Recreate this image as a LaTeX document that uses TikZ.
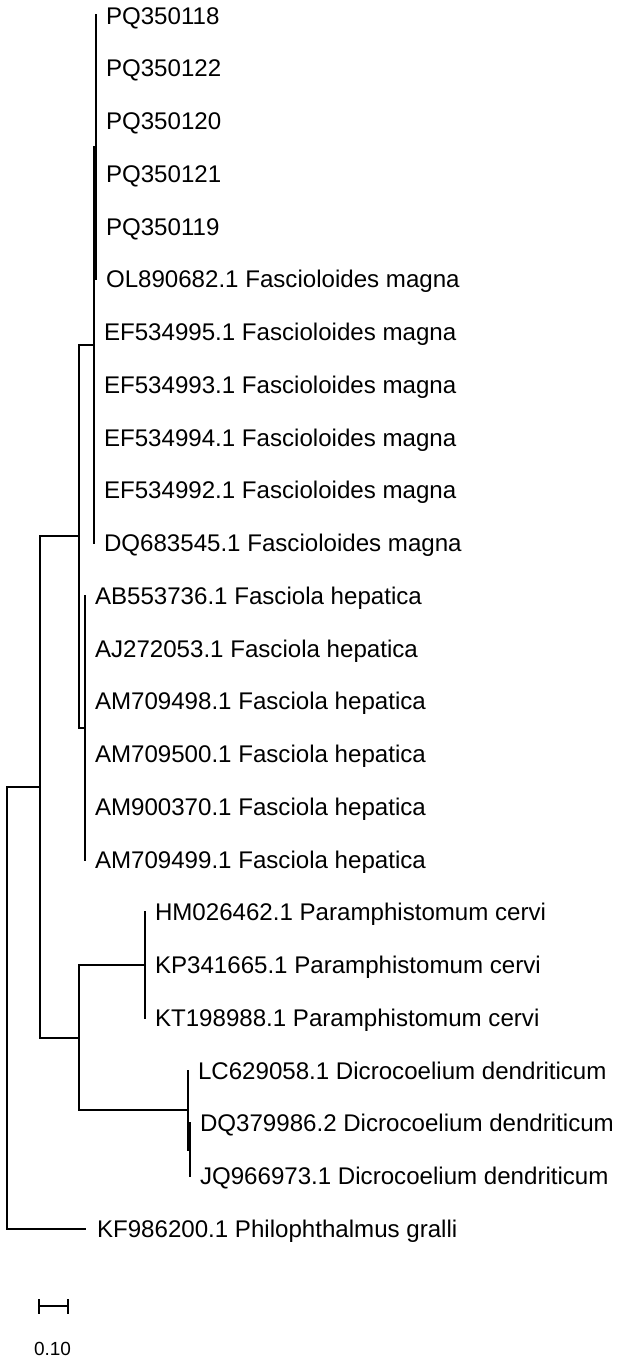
\documentclass[tikz,border=0pt]{standalone}
\usepackage{fontspec}
\setmainfont{Liberation Sans}
\tikzset{
  branch/.style={line width=2pt, black, line cap=rect},
  lab/.style={anchor=base west, inner sep=0pt, outer sep=0pt, font=\fontsize{24.1}{28}\selectfont, text=black},
}
\begin{document}
\begin{tikzpicture}[x=1pt,y=-1pt]
\useasboundingbox (0,0) rectangle (624,1362);
% leaf y positions
\def\cy{8.6}
% ---- labels ----
\node[lab] (l1)  at (106,15.5+\cy)  {PQ350118};
\node[lab] (l2)  at (106,68.25+\cy) {PQ350122};
\node[lab] (l3)  at (106,121+\cy)   {PQ350120};
\node[lab] (l4)  at (106,173.75+\cy){PQ350121};
\node[lab] (l5)  at (106,226.5+\cy) {PQ350119};
\node[lab] (l6)  at (106,279.25+\cy){OL890682.1 Fascioloides magna};
\node[lab] (l7)  at (104,332+\cy)   {EF534995.1 Fascioloides magna};
\node[lab] (l8)  at (104,384.75+\cy){EF534993.1 Fascioloides magna};
\node[lab] (l9)  at (104,437.5+\cy) {EF534994.1 Fascioloides magna};
\node[lab] (l10) at (104,490.25+\cy){EF534992.1 Fascioloides magna};
\node[lab] (l11) at (104,543+\cy)   {DQ683545.1 Fascioloides magna};
\node[lab] (l12) at (95,595.75+\cy) {AB553736.1 Fasciola hepatica};
\node[lab] (l13) at (95,648.5+\cy)  {AJ272053.1 Fasciola hepatica};
\node[lab] (l14) at (95,701.25+\cy) {AM709498.1 Fasciola hepatica};
\node[lab] (l15) at (95,754+\cy)    {AM709500.1 Fasciola hepatica};
\node[lab] (l16) at (95,806.75+\cy) {AM900370.1 Fasciola hepatica};
\node[lab] (l17) at (95,859.5+\cy)  {AM709499.1 Fasciola hepatica};
\node[lab] (l18) at (155,912.25+\cy){HM026462.1 Paramphistomum cervi};
\node[lab] (l19) at (155,965+\cy)   {KP341665.1 Paramphistomum cervi};
\node[lab] (l20) at (155,1017.75+\cy){KT198988.1 Paramphistomum cervi};
\node[lab] (l21) at (198,1070.5+\cy){LC629058.1 Dicrocoelium dendriticum};
\node[lab] (l22) at (200,1123.25+\cy){DQ379986.2 Dicrocoelium dendriticum};
\node[lab] (l23) at (200,1176+\cy)  {JQ966973.1 Dicrocoelium dendriticum};
\node[lab] (l24) at (97,1228.75+\cy){KF986200.1 Philophthalmus gralli};
% ---- tree coordinates ----
% Fascioloides clade
\coordinate (fA1) at (95.5,15.5);
\coordinate (fA2) at (95.5,279.25);
\coordinate (fAn) at (95.5,147.4);
\coordinate (fB1) at (93.5,147.4);
\coordinate (fB2) at (93.5,543);
\coordinate (nF)  at (93.5,345);
% Fasciola clade
\coordinate (h1) at (85,595.75);
\coordinate (h2) at (85,859.5);
\coordinate (nH) at (85,727.6);
% Fasciolidae node
\coordinate (nFFt) at (79,345);
\coordinate (nFFb) at (79,727.6);
\coordinate (nFF)  at (79,536.3);
% Paramphistomum clade
\coordinate (p1) at (145,912.25);
\coordinate (p2) at (145,1017.75);
\coordinate (nP) at (145,965);
% Dicrocoelium clade
\coordinate (d1)  at (187.5,1070.5);
\coordinate (dS)  at (187.5,1149.6);
\coordinate (dS2) at (189.5,1149.6);
\coordinate (d2)  at (189.5,1123.25);
\coordinate (d3)  at (189.5,1176);
\coordinate (nD)  at (187.5,1110);
% Param+Dicro node
\coordinate (nPDt) at (79,965);
\coordinate (nPDb) at (79,1110);
\coordinate (nPD)  at (79,1037.5);
% ingroup node
\coordinate (nIt) at (40,536.3);
\coordinate (nIb) at (40,1037.5);
\coordinate (nI)  at (40,786.9);
% root
\coordinate (rt) at (7,786.9);
\coordinate (rb) at (7,1228.75);
\coordinate (kf) at (85,1228.75);
% ---- branches ----
\draw[branch] (fA1) -- (fA2);
\draw[branch] (fB1) -- (fAn);
\draw[branch] (fB1) -- (fB2);
\draw[branch] (h1) -- (h2);
\draw[branch] (nFFt) -- (nF);
\draw[branch] (nFFb) -- (nH);
\draw[branch] (nFFt) -- (nFFb);
\draw[branch] (p1) -- (p2);
\draw[branch] (d1) -- (dS);
\draw[branch] (d2) -- (d3);
\draw[branch] (dS) -- (dS2);
\draw[branch] (nPDt) -- (nP);
\draw[branch] (nPDb) -- (nD);
\draw[branch] (nPDt) -- (nPDb);
\draw[branch] (nIt) -- (nFF);
\draw[branch] (nIb) -- (nPD);
\draw[branch] (nIt) -- (nIb);
\draw[branch] (rt) -- (nI);
\draw[branch] (rt) -- (rb);
\draw[branch] (rb) -- (kf);
% ---- scale bar ----
\coordinate (sb1) at (39,1306);
\coordinate (sb2) at (68,1306);
\draw[branch] (sb1) -- (sb2);
\draw[branch] ([yshift=-6.5pt]sb1) -- ([yshift=6.5pt]sb1);
\draw[branch] ([yshift=-6.5pt]sb2) -- ([yshift=6.5pt]sb2);
\node[inner sep=0pt, font=\fontsize{19}{22}\selectfont, anchor=base] (sbl) at (52.5,1355) {0.10};
\end{tikzpicture}
\end{document}
